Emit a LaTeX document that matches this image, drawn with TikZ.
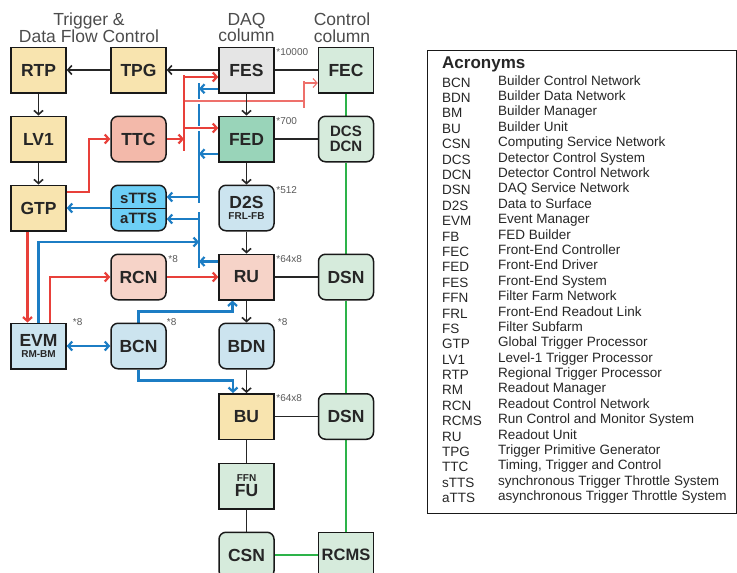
\documentclass[tikz,border=0pt]{standalone}
\usepackage{fontspec}
\setmainfont{Liberation Sans}
\usepackage{tikz}
\usetikzlibrary{arrows.meta, positioning, calc, backgrounds}

\definecolor{cyel}{HTML}{F8E4AF}
\definecolor{cgray}{HTML}{E5E5E5}
\definecolor{cpale}{HTML}{D6EBDC}
\definecolor{cfed}{HTML}{99D4B9}
\definecolor{cttc}{HTML}{F3B9AA}
\definecolor{crcn}{HTML}{F6D3C8}
\definecolor{ctts}{HTML}{6DCFF6}
\definecolor{clblue}{HTML}{CCE4EF}
\definecolor{cred}{HTML}{E8403A}
\definecolor{cblue}{HTML}{1C7DC4}
\definecolor{cgreen}{HTML}{2DB34A}

\newcommand{\acrow}[2]{\makebox[56pt][l]{\raisebox{-2pt}{#1}} & #2\\}

\begin{document}
\begin{tikzpicture}[x=1pt, y=-1pt,
    box/.style={rectangle, draw=black!90, line width=1.5pt, fill=white, minimum width=55pt, minimum height=45.5pt, inner sep=0pt, align=center, text=black!85, font=\bfseries\fontsize{17.5}{17.5}\selectfont},
    rbox/.style={box, rounded corners=7pt},
    multip/.style={font=\fontsize{10}{10}\selectfont, text=black!65, inner sep=1.5pt},
    colhead/.style={align=center, text=black!70, inner sep=0pt, font=\fontsize{17.5}{16.5}\selectfont},
    chev/.style={-{Straight Barb[length=4pt,width=9pt]}},
    darrow/.style={chev, line width=1.6pt, black!85},
    dline/.style={line width=1.6pt, black!85},
    gline/.style={line width=2pt, cgreen},
    rarrow/.style={chev, line width=2.2pt, cred},
    thinred/.style={line width=1.1pt, cred!75},
    barrow/.style={chev, line width=2.2pt, cblue},
    dbarrow/.style={{Straight Barb[length=4pt,width=9pt]}-{Straight Barb[length=4pt,width=9pt]}, line width=2.2pt, cblue},
    halo/.style={preaction={draw=white, line width=5pt, -}}
]
    \useasboundingbox (0,0) rectangle (737,573);
    \clip (0,0) rectangle (737,573);

    % Column titles
    \node[colhead, anchor=north] (trighead) at (89,13) {Trigger \&\\Data Flow Control};
    \node[colhead, anchor=north] (daqhead) at (246.5,13) {DAQ\\column};
    \node[colhead, anchor=north] (ctrlhead) at (342,13) {Control\\column};

    % Trigger column
    \node[box, fill=cyel] (rtp) at (38.5,70) {RTP};
    \node[box, fill=cyel] (lvone) at (38.5,139) {LV1};
    \node[box, fill=cyel] (gtp) at (38.5,208) {GTP};
    \node[box, fill=clblue, font=\bfseries\fontsize{17.5}{11.5}\selectfont] (evm) at (38.5,346) {EVM\\{\fontsize{10}{10}\selectfont RM-BM}};

    % Control and throttle blocks
    \node[box, fill=cyel] (tpg) at (138.5,70) {TPG};
    \node[rbox, fill=cttc] (ttc) at (138.5,139) {TTC};
    \node[rbox, fill=ctts, font=\bfseries\fontsize{15}{20}\selectfont] (tts) at (138.5,208) {sTTS\\aTTS};
    \draw[line width=1pt, black!90] (tts.west) -- (tts.east);
    \node[rbox, fill=crcn] (rcn) at (138.5,277) {RCN};
    \node[rbox, fill=clblue] (bcn) at (138.5,346) {BCN};

    % DAQ column
    \node[box, fill=cgray] (fes) at (246.5,70) {FES};
    \node[box, fill=cfed] (fed) at (246.5,139) {FED};
    \node[rbox, fill=clblue, font=\bfseries\fontsize{17.5}{11.5}\selectfont] (dtos) at (246.5,208) {D2S\\{\fontsize{10}{10}\selectfont FRL-FB}};
    \node[box, fill=crcn] (ru) at (246.5,277) {RU};
    \node[rbox, fill=clblue] (bdn) at (246.5,346) {BDN};
    \node[box, fill=cyel] (bu) at (246.5,416.5) {BU};
    \node[box, fill=cpale, font=\bfseries\fontsize{17.5}{15}\selectfont] (fu) at (246.5,486) {{\fontsize{10}{10}\selectfont FFN}\\FU};
    \node[rbox, fill=cpale] (csn) at (246.5,555) {CSN};

    % Control column
    \node[box, fill=cpale] (fec) at (346,70) {FEC};
    \node[rbox, fill=cpale, font=\bfseries\fontsize{15}{15}\selectfont] (dcs) at (346,139) {DCS\\DCN};
    \node[rbox, fill=cpale] (dsn) at (346,277) {DSN};
    \node[rbox, fill=cpale] (dsnb) at (346,416.5) {DSN};
    \node[box, fill=cpale, font=\bfseries\fontsize{16.5}{16.5}\selectfont] (rcms) at (346,555) {RCMS};

    % Multiplicities
    \node[multip, anchor=north west] (fesmul) at (fes.north east) {*10000};
    \node[multip, anchor=north west] (fedmul) at (fed.north east) {*700};
    \node[multip, anchor=north west] (dtosmul) at (dtos.north east) {*512};
    \node[multip, anchor=north west] (rumul) at (ru.north east) {*64x8};
    \node[multip, anchor=north west] (rcnmul) at (rcn.north east) {*8};
    \node[multip, anchor=north west] (bumul) at (bu.north east) {*64x8};
    \node[multip, anchor=west] (evmmul) at ([xshift=4.5pt]evm.north east) {*8};
    \node[multip, anchor=west] (bcnmul) at ([xshift=-1.5pt]bcn.north east) {*8};
    \node[multip, anchor=west] (bdnmul) at ([xshift=1.5pt]bdn.north east) {*8};

    \begin{scope}[on background layer]
        % Throttle buses (blue)
        \coordinate (sbtop) at (199,83);
        \coordinate (sbbot) at (199,203);
        \coordinate (abtop) at (199,212);
        \coordinate (abbot) at (199,268);
        \coordinate (evmtap) at (199,242);
        \draw[cblue, line width=2.2pt] (sbtop) -- (sbbot);
        \draw[cblue, line width=2.2pt] (abtop) -- (abbot);
        \path ([yshift=4.75pt]fes.south west) coordinate (fesst);
        \path ([yshift=8.75pt]fed.south west) coordinate (fedst);
        \path ([yshift=11pt]tts.east) coordinate (sttsin);
        \path ([yshift=-11pt]tts.east) coordinate (attsin);
        \path ([yshift=-8pt]ru.north west) coordinate (rust);
        \draw[barrow] (fesst) -- (fesst -| sbtop);
        \draw[barrow] (fedst) -- (fedst -| sbtop);
        \draw[barrow] (sttsin -| sbtop) -- (sttsin);
        \draw[barrow] (attsin -| abtop) -- (attsin);
        \draw[barrow] (rust) -- (rust -| abtop);
        \draw[barrow] (evm.north) |- (evmtap);
        \draw[barrow] (tts.west) -- (gtp.east);
        \draw[dbarrow] (evm.east) -- (bcn.west);
        \draw[barrow] (bcn.south) -- ++(0,11) -| ([xshift=-13.5pt]bu.north);
        \draw[barrow] (bcn.north) -- ++(0,-11) -| ([xshift=-14pt]ru.south);

        % Timing and control (red)
        \coordinate (rbtop) at (184,75);
        \coordinate (rbbot) at (184,151);
        \coordinate (ttcspur) at (304,101);
        \coordinate (ticktop) at (304,81);
        \coordinate (tickbot) at (304,108);
        \path ([yshift=-7pt]fes.west) coordinate (fesin);
        \path ([yshift=11pt]fed.west) coordinate (fedin);
        \path ([yshift=-13pt]fec.west) coordinate (fecin);
        \draw[rarrow] (ttc.east) -- (ttc.east -| rbtop);
        \draw[rarrow] (fesin -| rbtop) -- (fesin);
        \draw[rarrow, halo] (fedin -| rbtop) -- (fedin);
        \draw[thinred, halo] (ttcspur -| rbtop) -- (ttcspur);
        \draw[thinred] (ticktop) -- (tickbot);
        \draw[thinred, chev] (fecin -| ticktop) -- (fecin);
        \draw[cred, line width=2.2pt] (rbtop) -- (rbbot);
        \draw[rarrow] ([yshift=16pt]gtp.east) -- ++(22,0) |- (ttc.west);
        \draw[rarrow] ([xshift=-11pt]gtp.south) -- ([xshift=-11pt]evm.north);
        \draw[rarrow] ([xshift=11.5pt]evm.north) |- (rcn.west);
        \draw[rarrow] (rcn.east) -- (ru.west);

        % Data flow (black)
        \draw[darrow] (tpg.west) -- (rtp.east);
        \draw[darrow] (fes.west) -- (tpg.east);
        \draw[dline] (fes.east) -- (fec.west);
        \draw[darrow] (rtp) -- (lvone);
        \draw[darrow] (lvone) -- (gtp);
        \draw[darrow] (fes) -- (fed);
        \draw[dline] (fed) -- (dcs);
        \draw[darrow] (fed) -- (dtos);
        \draw[darrow] (dtos) -- (ru);
        \draw[dline] (ru) -- (dsn);
        \draw[darrow] (ru) -- (bdn);
        \draw[darrow] (bdn) -- (bu);
        \draw[dline] (bu) -- (dsnb);
        \draw[dline] (bu) -- (fu);
        \draw[dline] (fu) -- (csn);

        % Control network (green)
        \draw[gline] (fec) -- (dcs);
        \draw[gline] (dcs) -- (dsn);
        \draw[gline] (dsn) -- (dsnb);
        \draw[gline] (dsnb) -- (rcms);
        \draw[gline] (csn) -- (rcms);
    \end{scope}

    % Legend
    \node[draw=black!90, line width=1pt, minimum width=309pt, minimum height=463pt, anchor=north west, inner sep=0pt] (legend) at (426.5,50) {};
    \node[anchor=base west, inner sep=0pt, text=black!85, font=\fontsize{13.5}{15.4}\selectfont] (acrlist) at (442,68) {%
        \begin{tabular}[t]{@{}l@{}l@{}}
            \multicolumn{2}{@{}l@{}}{\fontsize{17}{15.4}\selectfont\bfseries Acronyms}\\[1.6pt]
            \acrow{BCN}{Builder Control Network}
            \acrow{BDN}{Builder Data Network}
            \acrow{BM}{Builder Manager}
            \acrow{BU}{Builder Unit}
            \acrow{CSN}{Computing Service Network}
            \acrow{DCS}{Detector Control System}
            \acrow{DCN}{Detector Control Network}
            \acrow{DSN}{DAQ Service Network}
            \acrow{D2S}{Data to Surface}
            \acrow{EVM}{Event Manager}
            \acrow{FB}{FED Builder}
            \acrow{FEC}{Front-End Controller}
            \acrow{FED}{Front-End Driver}
            \acrow{FES}{Front-End System}
            \acrow{FFN}{Filter Farm Network}
            \acrow{FRL}{Front-End Readout Link}
            \acrow{FS}{Filter Subfarm}
            \acrow{GTP}{Global Trigger Processor}
            \acrow{LV1}{Level-1 Trigger Processor}
            \acrow{RTP}{Regional Trigger Processor}
            \acrow{RM}{Readout Manager}
            \acrow{RCN}{Readout Control Network}
            \acrow{RCMS}{Run Control and Monitor System}
            \acrow{RU}{Readout Unit}
            \acrow{TPG}{Trigger Primitive Generator}
            \acrow{TTC}{Timing, Trigger and Control}
            \acrow{sTTS}{synchronous Trigger Throttle System}
            \acrow{aTTS}{asynchronous Trigger Throttle System}
        \end{tabular}};
\end{tikzpicture}
\end{document}
